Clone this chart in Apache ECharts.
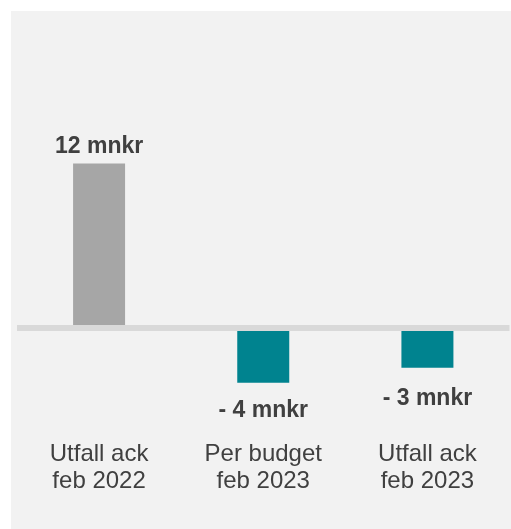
<!DOCTYPE html>
<html>
<head>
<meta charset="utf-8">
<script src="https://cdn.jsdelivr.net/npm/echarts@6/dist/echarts.min.js"></script>
<style>
html,body{margin:0;padding:0;background:#ffffff;width:511px;height:529px;overflow:hidden;}
#chart{position:absolute;left:11px;top:11px;width:500px;height:518px;background:#f2f2f2;}
</style>
</head>
<body>
<div id="chart"></div>
<script>
const categories = ['Utfall ack\nfeb 2022', 'Per budget\nfeb 2023', 'Utfall ack\nfeb 2023'];
const values = [12, -4, -2.9];
const barColors = ['#a6a6a6', '#00838f', '#00838f'];

const chart = echarts.init(document.getElementById('chart'));
const font = '"Liberation Sans", Arial, sans-serif';
chart.setOption({
  backgroundColor: '#f2f2f2',
  animation: false,
  grid: { left: 6, right: 1.5, top: 97.8, bottom: 91.4 },
  xAxis: [
    {
      type: 'category', data: categories, z: 5,
      axisLine: { onZero: true, lineStyle: { color: '#d9d9d9', width: 6, cap: 'butt' } },
      axisTick: { show: false }, axisLabel: { show: false }, splitLine: { show: false }
    },
    {
      type: 'category', data: categories, position: 'bottom',
      axisLine: { show: false, onZero: false }, axisTick: { show: false },
      axisLabel: { color: '#404040', fontSize: 24, lineHeight: 27, fontFamily: font, margin: 3, interval: 0 }
    }
  ],
  yAxis: { type: 'value', min: -8, max: 16, show: false, splitLine: { show: false } },
  series: [{
    type: 'bar',
    barWidth: 52,
    data: values.map((v, i) => ({
      value: v,
      itemStyle: { color: barColors[i] },
      label: { position: v >= 0 ? 'top' : 'bottom', distance: v >= 0 ? 5 : (i === 1 ? 16 : 19) }
    })),
    label: {
      show: true, color: '#404040', fontSize: 23, fontWeight: 'bold', fontFamily: font,
      formatter: p => (p.value < 0 ? '- ' + Math.round(-p.value) : Math.round(p.value)) + ' mnkr'
    }
  }]
});
</script>
</body>
</html>
